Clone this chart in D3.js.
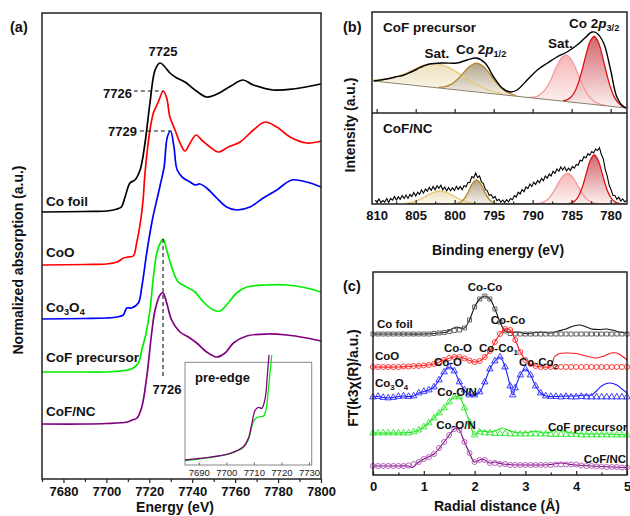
<!DOCTYPE html>
<html><head><meta charset="utf-8">
<script src="https://cdn.jsdelivr.net/npm/d3@7"></script>
<style>
body{margin:0;background:#fff}
text{font-family:"Liberation Sans",Arial,sans-serif;}
</style>
</head><body>
<svg id="chart" width="630" height="516"></svg>
<script>
// ---------------- DATA ----------------
// (a) XANES, energy (eV) vs normalized absorption (offset, a.u.)
const xanesCoFoil=[[7670,2.67],[7690,2.675],[7700,2.68],[7705,2.70],[7707,2.72],[7708.7,2.82],[7711,2.96],[7713.3,2.99],[7715.7,3.09],[7718,3.36],[7720.3,3.76],[7722.7,4.09],[7725,4.16],[7727.3,4.12],[7729.6,4.06],[7732.8,4.01],[7736.6,3.97],[7741.3,3.89],[7746.7,3.82],[7750.6,3.84],[7758,3.93],[7763.6,3.99],[7768.5,3.94],[7777.8,3.89],[7787.1,3.90],[7800,3.95]];
const xanesCoO=[[7670,2.14],[7690,2.145],[7700,2.15],[7705,2.17],[7708,2.21],[7710,2.22],[7712.5,2.23],[7714.1,2.36],[7716,2.59],[7717.1,2.79],[7718,3.06],[7720.3,3.49],[7721.9,3.66],[7724.2,3.77],[7726.5,3.88],[7728.1,3.81],[7729.6,3.62],[7732,3.49],[7734.3,3.36],[7736.6,3.28],[7739,3.36],[7741.8,3.44],[7744.4,3.39],[7748.3,3.32],[7752.2,3.27],[7756.8,3.32],[7762.3,3.37],[7768.5,3.49],[7773.9,3.57],[7779.4,3.52],[7785.6,3.42],[7793.3,3.36],[7800,3.38]];
const xanesCo3O4=[[7670,1.60],[7690,1.605],[7700,1.61],[7705,1.62],[7707.9,1.64],[7709.5,1.71],[7711.7,1.71],[7714.9,1.76],[7716.5,1.92],[7719,2.29],[7721.5,2.60],[7723.5,2.79],[7725.3,2.96],[7726.9,3.12],[7728.4,3.42],[7729.9,3.48],[7731.5,3.32],[7733,3.09],[7735.8,3.01],[7739,2.97],[7741.3,2.94],[7743.6,2.95],[7746.7,2.91],[7751.4,2.81],[7756,2.72],[7760.7,2.69],[7766.9,2.72],[7773.1,2.81],[7779.4,2.89],[7786.4,2.99],[7793.3,2.97],[7800,2.92]];
const xanesCoFPre=[[7670,1.07],[7690,1.07],[7700,1.07],[7710,1.09],[7712.5,1.11],[7714.9,1.16],[7716.5,1.29],[7718.4,1.45],[7720.3,1.69],[7721.9,2.02],[7723.5,2.26],[7725.1,2.36],[7726.4,2.40],[7728.1,2.29],[7730.4,2.12],[7733.5,1.97],[7737.4,1.92],[7741.3,1.87],[7745.2,1.77],[7749.9,1.69],[7753,1.68],[7756.8,1.76],[7760.7,1.86],[7765.4,1.92],[7774.7,1.94],[7784,1.94],[7793.3,1.91],[7800,1.87]];
const xanesCoFNC=[[7670,0.55],[7690,0.55],[7700,0.555],[7709.7,0.57],[7712,0.59],[7714.3,0.61],[7716.5,0.72],[7718.8,1.02],[7721.1,1.46],[7722.7,1.69],[7725,1.84],[7726.4,1.86],[7728.1,1.76],[7730.4,1.59],[7734.3,1.47],[7738.2,1.42],[7742.1,1.36],[7746.7,1.27],[7751.4,1.22],[7755.3,1.26],[7759.2,1.36],[7765.4,1.43],[7774.7,1.45],[7784,1.44],[7793.3,1.41],[7800,1.38]];
const xanesTicks=[7680,7700,7720,7740,7760,7780,7800];
// inset pre-edge
const preCoFNC=[[7685,0.05],[7690,0.065],[7695.3,0.083],[7701.4,0.117],[7706.2,0.183],[7708,0.267],[7709.3,0.417],[7710.5,0.55],[7711.7,0.577],[7712.9,0.567],[7714.1,0.667],[7714.9,0.9],[7715.5,1.1]];
const preCoFPre=[[7685,0.045],[7690,0.06],[7695.3,0.08],[7701.4,0.113],[7706.2,0.178],[7708,0.25],[7709.8,0.433],[7711.1,0.473],[7712.3,0.483],[7713.5,0.49],[7714.5,0.567],[7715.3,0.767],[7715.9,0.933],[7716.5,1.1]];
const preTicks=[7690,7700,7710,7720,7730];

// (b) XPS Co 2p, binding energy (eV) vs intensity
const xpsPreData=[[810.4,0.29],[809.5,0.30],[808.7,0.31],[807.6,0.33],[806.5,0.35],[805.6,0.38],[804.8,0.41],[804.0,0.44],[803.2,0.46],[801.5,0.47],[799.7,0.47],[798.4,0.50],[797.2,0.52],[796.1,0.47],[795.0,0.33],[793.9,0.22],[792.9,0.18],[792.0,0.20],[790.7,0.30],[789.4,0.40],[788.1,0.47],[786.9,0.53],[785.6,0.58],[784.3,0.65],[783.3,0.72],[782.4,0.78],[781.8,0.77],[780.9,0.67],[780.0,0.40],[779.2,0.13],[778.3,0.03],[777.95,0.02]];
const xpsPreBg=[[810.4,0.29],[777.95,0.02]];
const xpsPreSat1=[[810.4,0.301],[810.2,0.301],[809.2,0.305],[808.2,0.318],[807.2,0.339],[806.2,0.370],[805.2,0.406],[804.3,0.439],[803.3,0.460],[802.3,0.462],[801.3,0.443],[800.3,0.406],[799.3,0.357],[798.3,0.304],[797.3,0.257],[796.3,0.219],[795.3,0.190],[794.3,0.169],[793.8,0.161]];
const xpsPre2p12=[[802.1,0.227],[801.1,0.236],[800.6,0.251],[800.1,0.276],[799.6,0.310],[799.1,0.351],[798.6,0.395],[798.1,0.434],[797.6,0.460],[797.1,0.467],[796.6,0.452],[796.1,0.418],[795.6,0.371],[795.1,0.318],[794.6,0.268],[794.1,0.226],[793.6,0.193],[793.1,0.170],[792.1,0.144]];
const xpsPreSat2=[[790.65,0.126],[790.15,0.126],[789.65,0.132],[789.15,0.149],[788.65,0.181],[788.15,0.231],[787.65,0.303],[787.2,0.388],[786.7,0.470],[786.2,0.529],[785.7,0.549],[785.2,0.521],[784.7,0.454],[784.2,0.363],[783.7,0.270],[783.2,0.189],[782.7,0.131],[782.2,0.091],[781.7,0.068],[781.2,0.054],[780.7,0.046]];
const xpsPre2p32=[[786.1,0.094],[785.6,0.102],[785.1,0.127],[784.6,0.182],[784.1,0.279],[783.6,0.417],[783.1,0.569],[782.6,0.691],[782.1,0.735],[781.6,0.683],[781.1,0.552],[780.6,0.392],[780.1,0.246],[779.6,0.141],[779.1,0.078],[778.6,0.044],[778.1,0.028]];
// CoF/NC: measured (noisy) intensity on an even grid from 810.2 eV downwards
const xpsNCStart=810.2, xpsNCStep=-0.248;
const xpsNCData=[0.040,0.016,0.050,0.013,0.035,0.018,0.055,0.015,0.055,0.038,0.075,0.038,0.072,0.047,0.085,0.056,0.090,0.056,0.095,0.075,0.115,0.080,0.117,0.097,0.140,0.108,0.150,0.128,0.167,0.136,0.175,0.142,0.183,0.158,0.188,0.142,0.170,0.132,0.165,0.133,0.163,0.135,0.177,0.146,0.175,0.142,0.185,0.170,0.215,0.216,0.275,0.262,0.310,0.265,0.280,0.220,0.205,0.145,0.132,0.085,0.095,0.058,0.075,0.033,0.047,0.018,0.040,0.015,0.043,0.022,0.055,0.043,0.085,0.070,0.118,0.100,0.145,0.122,0.170,0.153,0.200,0.175,0.218,0.196,0.235,0.213,0.255,0.232,0.280,0.258,0.300,0.280,0.328,0.308,0.350,0.327,0.370,0.340,0.370,0.330,0.358,0.336,0.375,0.358,0.395,0.388,0.438,0.430,0.475,0.460,0.503,0.488,0.525,0.510,0.550,0.535,0.562,0.495,0.450,0.345,0.282,0.190,0.142,0.085,0.085,0.048,0.068,0.030,0.052,0.022,0.035];
const xpsNCBg=[[805.95,0.004],[777.95,0.004]];
const xpsNCSat1=[[806.4,0.006],[805.9,0.011],[804.9,0.032],[803.9,0.070],[802.9,0.111],[801.9,0.13],[800.9,0.111],[799.9,0.070],[798.9,0.032],[797.9,0.011],[797.4,0.006]];
const xpsNC2p12=[[800.2,0.001],[799.7,0.005],[799.2,0.020],[798.7,0.060],[798.2,0.129],[797.7,0.206],[797.2,0.24],[796.7,0.206],[796.2,0.129],[795.7,0.060],[795.2,0.020],[794.7,0.005],[794.2,0.001]];
const xpsNCSat2=[[789.55,0.003],[789.05,0.008],[788.55,0.021],[788.05,0.048],[787.55,0.094],[787.05,0.158],[786.55,0.228],[786.05,0.285],[785.55,0.307],[785.05,0.285],[784.55,0.228],[784.05,0.158],[783.55,0.094],[783.05,0.048],[782.55,0.021],[782.05,0.008],[781.55,0.003]];
const xpsNC2p32=[[785.6,0.002],[785.1,0.008],[784.6,0.029],[784.1,0.080],[783.6,0.176],[783.1,0.311],[782.6,0.438],[782.1,0.49],[781.6,0.438],[781.1,0.311],[780.6,0.176],[780.1,0.080],[779.6,0.029],[779.1,0.008],[778.6,0.002]];
const xpsTicks=[810,805,800,795,790,785,780];

// (c) EXAFS FT, radial distance (Å) vs FT magnitude (offset)
const ftFoilData=[[0,1.41],[0.5,1.41],[1.0,1.41],[1.3,1.42],[1.45,1.43],[1.55,1.46],[1.64,1.48],[1.72,1.47],[1.8,1.47],[1.9,1.55],[2.0,1.68],[2.1,1.76],[2.2,1.79],[2.3,1.76],[2.4,1.66],[2.5,1.53],[2.6,1.44],[2.7,1.425],[2.85,1.43],[3.0,1.415],[3.15,1.42],[3.3,1.43],[3.5,1.42],[3.65,1.44],[3.8,1.46],[3.95,1.49],[4.08,1.50],[4.2,1.48],[4.3,1.46],[4.45,1.455],[4.6,1.46],[4.75,1.445],[4.85,1.43],[5.0,1.42]];
const ftFoilFit=[[0,1.41],[0.1,1.41],[0.2,1.41],[0.3,1.41],[0.4,1.41],[0.5,1.41],[0.6,1.41],[0.7,1.41],[0.8,1.41],[0.9,1.41],[1.0,1.41],[1.1,1.41],[1.2,1.415],[1.3,1.42],[1.4,1.425],[1.5,1.435],[1.6,1.445],[1.7,1.45],[1.8,1.47],[1.9,1.55],[2.0,1.68],[2.1,1.76],[2.2,1.79],[2.3,1.76],[2.4,1.66],[2.5,1.53],[2.6,1.44],[2.7,1.415],[2.8,1.41],[2.9,1.41],[3.0,1.41],[3.1,1.41],[3.2,1.41],[3.3,1.41],[3.4,1.41],[3.5,1.41],[3.6,1.41],[3.7,1.41],[3.8,1.41],[3.9,1.41],[4.0,1.41],[4.1,1.41],[4.2,1.41],[4.3,1.41],[4.4,1.41],[4.5,1.41],[4.6,1.41],[4.7,1.41],[4.8,1.41],[4.9,1.41],[5.0,1.41]];
const ftCoOData=[[0,1.08],[0.5,1.08],[0.8,1.09],[1.0,1.095],[1.2,1.11],[1.4,1.15],[1.6,1.18],[1.7,1.18],[1.85,1.155],[2.0,1.13],[2.1,1.14],[2.2,1.18],[2.3,1.24],[2.4,1.33],[2.5,1.41],[2.6,1.46],[2.7,1.45],[2.8,1.35],[2.9,1.23],[3.0,1.15],[3.1,1.11],[3.2,1.09],[3.35,1.08],[3.5,1.085],[3.57,1.18],[3.65,1.21],[3.8,1.22],[4.0,1.215],[4.2,1.19],[4.4,1.17],[4.55,1.19],[4.7,1.22],[4.8,1.22],[4.9,1.19],[5.0,1.15]];
const ftCoOFit=[[0,1.08],[0.1,1.08],[0.2,1.08],[0.3,1.08],[0.4,1.08],[0.5,1.08],[0.6,1.085],[0.7,1.085],[0.8,1.09],[0.9,1.09],[1.0,1.095],[1.1,1.10],[1.2,1.11],[1.3,1.13],[1.4,1.15],[1.5,1.17],[1.6,1.18],[1.7,1.18],[1.8,1.165],[1.9,1.145],[2.0,1.13],[2.1,1.14],[2.2,1.18],[2.3,1.24],[2.4,1.33],[2.5,1.41],[2.6,1.46],[2.7,1.45],[2.8,1.35],[2.9,1.23],[3.0,1.15],[3.1,1.11],[3.2,1.09],[3.3,1.08],[3.4,1.08],[3.5,1.08],[3.6,1.08],[3.7,1.08],[3.8,1.08],[3.9,1.08],[4.0,1.08],[4.1,1.08],[4.2,1.08],[4.3,1.08],[4.4,1.08],[4.5,1.08],[4.6,1.08],[4.7,1.08],[4.8,1.08],[4.9,1.08],[5.0,1.08]];
const ftCo3O4Data=[[0,0.78],[0.1,0.785],[0.2,0.775],[0.3,0.77],[0.4,0.775],[0.5,0.785],[0.6,0.79],[0.7,0.785],[0.8,0.79],[0.9,0.82],[1.0,0.835],[1.1,0.85],[1.2,0.88],[1.3,0.95],[1.4,1.03],[1.5,1.08],[1.6,1.04],[1.7,0.93],[1.8,0.85],[1.9,0.80],[2.0,0.80],[2.1,0.83],[2.2,0.93],[2.3,1.06],[2.4,1.14],[2.5,1.18],[2.6,1.08],[2.7,0.89],[2.75,0.80],[2.8,0.87],[2.9,1.00],[3.0,1.06],[3.1,1.00],[3.2,0.89],[3.3,0.82],[3.4,0.79],[3.6,0.785],[3.8,0.79],[4.0,0.79],[4.15,0.80],[4.3,0.80],[4.4,0.84],[4.5,0.89],[4.65,0.92],[4.8,0.90],[4.9,0.86],[5.0,0.82]];
const ftCo3O4Fit=[[0,0.78],[0.1,0.785],[0.2,0.775],[0.3,0.77],[0.4,0.775],[0.5,0.785],[0.6,0.79],[0.7,0.785],[0.8,0.79],[0.9,0.82],[1.0,0.835],[1.1,0.85],[1.2,0.88],[1.3,0.95],[1.4,1.03],[1.5,1.08],[1.6,1.04],[1.7,0.93],[1.8,0.85],[1.9,0.80],[2.0,0.80],[2.1,0.83],[2.2,0.93],[2.3,1.06],[2.4,1.14],[2.5,1.18],[2.6,1.08],[2.7,0.89],[2.75,0.80],[2.8,0.87],[2.9,1.00],[3.0,1.06],[3.1,1.00],[3.2,0.89],[3.3,0.82],[3.4,0.79],[3.5,0.785],[3.6,0.785],[3.7,0.78],[3.8,0.785],[3.9,0.78],[4.0,0.78],[4.1,0.785],[4.2,0.78],[4.3,0.78],[4.4,0.78],[4.5,0.78],[4.6,0.78],[4.7,0.78],[4.8,0.78],[4.9,0.78],[5.0,0.78]];
const ftCoFPreData=[[0,0.42],[0.5,0.42],[0.8,0.43],[0.9,0.45],[1.0,0.48],[1.1,0.52],[1.2,0.57],[1.3,0.62],[1.4,0.67],[1.5,0.73],[1.6,0.78],[1.7,0.78],[1.8,0.67],[1.9,0.53],[2.0,0.40],[2.1,0.44],[2.3,0.43],[2.45,0.45],[2.55,0.47],[2.7,0.44],[2.9,0.42],[3.1,0.43],[3.2,0.44],[3.35,0.42],[3.5,0.43],[3.6,0.45],[3.75,0.44],[3.9,0.42],[4.2,0.41],[4.6,0.41],[5.0,0.40]];
const ftCoFPreFit=[[0,0.42],[0.1,0.42],[0.2,0.42],[0.3,0.42],[0.4,0.42],[0.5,0.42],[0.6,0.42],[0.7,0.42],[0.8,0.43],[0.9,0.45],[1.0,0.48],[1.1,0.52],[1.2,0.57],[1.3,0.62],[1.4,0.67],[1.5,0.73],[1.6,0.78],[1.7,0.78],[1.8,0.67],[1.9,0.53],[2.0,0.40],[2.1,0.43],[2.2,0.42],[2.3,0.42],[2.4,0.415],[2.5,0.415],[2.6,0.415],[2.7,0.41],[2.8,0.41],[2.9,0.41],[3.0,0.41],[3.1,0.41],[3.2,0.41],[3.3,0.41],[3.4,0.41],[3.5,0.405],[3.6,0.405],[3.7,0.405],[3.8,0.405],[3.9,0.405],[4.0,0.405],[4.1,0.40],[4.2,0.40],[4.3,0.40],[4.4,0.40],[4.5,0.40],[4.6,0.40],[4.7,0.40],[4.8,0.40],[4.9,0.40],[5.0,0.40]];
const ftCoFNCData=[[0,0.09],[0.5,0.09],[0.7,0.09],[0.78,0.075],[0.85,0.11],[1.0,0.16],[1.2,0.21],[1.4,0.33],[1.6,0.46],[1.65,0.47],[1.7,0.45],[1.8,0.33],[1.9,0.22],[2.0,0.13],[2.15,0.16],[2.3,0.12],[2.4,0.13],[2.55,0.11],[3.0,0.10],[3.5,0.105],[3.7,0.12],[3.9,0.105],[4.5,0.085],[5.0,0.075]];
const ftCoFNCFit=[[0,0.09],[0.1,0.09],[0.2,0.09],[0.3,0.09],[0.4,0.09],[0.5,0.09],[0.6,0.09],[0.7,0.095],[0.8,0.11],[0.9,0.13],[1.0,0.16],[1.1,0.18],[1.2,0.21],[1.3,0.27],[1.4,0.33],[1.5,0.40],[1.6,0.46],[1.7,0.45],[1.8,0.33],[1.9,0.22],[2.0,0.13],[2.1,0.15],[2.2,0.15],[2.3,0.12],[2.4,0.12],[2.5,0.11],[2.6,0.11],[2.7,0.10],[2.8,0.10],[2.9,0.10],[3.0,0.10],[3.1,0.10],[3.2,0.10],[3.3,0.10],[3.4,0.10],[3.5,0.10],[3.6,0.105],[3.7,0.105],[3.8,0.105],[3.9,0.105],[4.0,0.105],[4.1,0.095],[4.2,0.09],[4.3,0.09],[4.4,0.085],[4.5,0.085],[4.6,0.08],[4.7,0.08],[4.8,0.08],[4.9,0.075],[5.0,0.075]];
const ftTicks=[0,1,2,3,4,5];

// ---------------- DRAW ----------------
const svg=d3.select("#chart");
const defs=svg.append("defs");
const FONT='"Liberation Sans",Arial,sans-serif';
function T(g,x,y,s,o={}){
  const t=g.append("text").attr("x",x).attr("y",y).attr("font-size",o.size||13).attr("font-weight",o.w||"bold").attr("fill",o.fill||"#111").attr("text-anchor",o.anchor||"start");
  if(o.rot!==undefined) t.attr("transform",`rotate(${o.rot},${x},${y})`);
  if(Array.isArray(s)){
    s.forEach(p=>{
      if(typeof p==="string"){t.append("tspan").text(p);}
      else{const ts=t.append("tspan").text(p.t);
        if(p.sub){ts.attr("font-size",(o.size||13)*0.68).attr("dy",p.dy||3);}
        if(p.up){ts.attr("dy",p.up);}
        if(p.it){ts.attr("font-style","italic");}
      }
    });
  } else t.text(s);
  return t;
}
function styleAxis(ax,size,bold){
  ax.select(".domain").remove();
  ax.selectAll("text").attr("font-size",size).attr("font-weight",bold?"bold":"normal").attr("fill","#111").attr("font-family",FONT);
  ax.selectAll("line").attr("stroke","#222").attr("stroke-width",1.2);
}

// ===== Panel (a) =====
const xa=d3.scaleLinear().domain([7670,7800]).range([42,321]);
const ya=d3.scaleLinear().domain([0,4.66]).range([479,13]);
const la=d3.line().x(d=>xa(d[0])).y(d=>ya(d[1])).curve(d3.curveCatmullRom.alpha(0.5));
const gA=svg.append("g");
const aSeries=[[xanesCoFoil,"#000"],[xanesCoO,"#ff0000"],[xanesCo3O4,"#0000ff"],[xanesCoFPre,"#00ee00"],[xanesCoFNC,"#800080"]];
aSeries.forEach(([d,c])=>gA.append("path").attr("d",la(d)).attr("fill","none").attr("stroke",c).attr("stroke-width",1.7));
gA.append("rect").attr("x",42).attr("y",13).attr("width",279).attr("height",466).attr("fill","none").attr("stroke","#222").attr("stroke-width",1.5);
const axA=gA.append("g").attr("transform","translate(0,479)").call(d3.axisBottom(xa).tickValues(xanesTicks).tickSize(4).tickPadding(4).tickFormat(d3.format("d")));
styleAxis(axA,13,true);
const minorA=gA.append("g").attr("transform","translate(0,479)").call(d3.axisBottom(xa).tickValues([7670,7690,7710,7730,7750,7770,7790]).tickSize(3).tickFormat(""));
styleAxis(minorA,13,true);
T(gA,46,206,"Co foil",{size:13.5});
T(gA,46,257,"CoO",{size:13.5});
T(gA,46,312,["Co",{t:"3",sub:true,dy:3},{t:"O",up:-3},{t:"4",sub:true,dy:3}],{size:13.5});
T(gA,46,362,"CoF precursor",{size:13.5});
T(gA,46,416,"CoF/NC",{size:13.5});
T(gA,163,56,"7725",{anchor:"middle"});
T(gA,132,97.5,"7726",{anchor:"end"});
T(gA,137,136,"7729",{anchor:"end"});
T(gA,167,394,"7726",{anchor:"middle"});
const dash="4,3";
gA.append("line").attr("x1",xa(7712.8)).attr("x2",xa(7726.5)).attr("y1",ya(3.88)).attr("y2",ya(3.88)).attr("stroke","#111").attr("stroke-dasharray",dash).attr("stroke-width",1.1);
gA.append("line").attr("x1",xa(7715.6)).attr("x2",xa(7729.9)).attr("y1",ya(3.48)).attr("y2",ya(3.48)).attr("stroke","#111").attr("stroke-dasharray",dash).attr("stroke-width",1.1);
gA.append("line").attr("x1",xa(7726.4)).attr("x2",xa(7726.4)).attr("y1",ya(2.40)).attr("y2",ya(1.02)).attr("stroke","#111").attr("stroke-dasharray",dash).attr("stroke-width",1.1);
T(gA,175,512,"Energy (eV)",{size:14,anchor:"middle"});
T(gA,23,260,"Normalized absorption (a.u.)",{size:14,anchor:"middle",rot:-90});
T(gA,10,32,"(a)",{size:14.5});

// inset
const xi=d3.scaleLinear().domain([7685,7731]).range([185,311.7]);
const yi=d3.scaleLinear().domain([0,1.027]).range([465,362.3]);
const li=d3.line().x(d=>xi(d[0])).y(d=>yi(d[1])).curve(d3.curveCatmullRom.alpha(0.5));
const gI=svg.append("g");
gI.append("rect").attr("x",185).attr("y",362.3).attr("width",126.7).attr("height",102.7).attr("fill","#fff").attr("stroke","#888").attr("stroke-width",1);
gI.append("path").attr("d",li(preCoFPre)).attr("fill","none").attr("stroke","#00ee00").attr("stroke-width",1.3);
gI.append("path").attr("d",li(preCoFNC)).attr("fill","none").attr("stroke","#800080").attr("stroke-width",1.3);
const axI=gI.append("g").attr("transform","translate(0,465)").call(d3.axisBottom(xi).tickValues(preTicks).tickSize(-2.5).tickPadding(4).tickFormat(d3.format("d")));
styleAxis(axI,9.5,false);
axI.selectAll("line").attr("stroke","#666").attr("stroke-width",1);
axI.selectAll("text").attr("fill","#222");
T(gI,195,382,"pre-edge",{size:13});

// ===== Panel (b) =====
const xb=d3.scaleLinear().domain([810.6,777.9]).range([372,627]);
const ybT=d3.scaleLinear().domain([-0.03,0.98]).range([113,12]);
const ybB=d3.scaleLinear().domain([0,0.91]).range([204,113]);
const gB=svg.append("g");
function grad(id,c1,c2){const g=defs.append("linearGradient").attr("id",id).attr("x1",0).attr("y1",0).attr("x2",0).attr("y2",1);
 g.append("stop").attr("offset","0%").attr("stop-color",c1); g.append("stop").attr("offset","100%").attr("stop-color",c2);}
grad("gSat1","#eadbb0","#fbf7ec");
grad("g2p12","#a8957a","#f2ede4");
grad("gSat2","#f3a9a9","#fdf1f1");
grad("g2p32","#cc4a52","#fbeeee");
function peaks(ys,list){
  const l=d3.line().x(d=>xb(d[0])).y(d=>ys(d[1])).curve(d3.curveCatmullRom.alpha(0.5));
  list.forEach(([d,gid])=>{
    gB.append("path").attr("d",l(d)+"Z").attr("fill",`url(#${gid})`).attr("fill-opacity",0.85).attr("stroke","none");
  });
  list.forEach(([d,gid,col])=>{
    gB.append("path").attr("d",l(d)).attr("fill","none").attr("stroke",col).attr("stroke-width",1.3);
  });
}
const lbT=d3.line().x(d=>xb(d[0])).y(d=>ybT(d[1])).curve(d3.curveCatmullRom.alpha(0.5));
const lbB=d3.line().x(d=>xb(d[0])).y(d=>ybB(d[1]));
peaks(ybT,[[xpsPreSat1,"gSat1","#e8c878"],[xpsPre2p12,"g2p12","#b08a2a"],[xpsPreSat2,"gSat2","#f49a9a"],[xpsPre2p32,"g2p32","#dd1010"]]);
gB.append("path").attr("d",lbT(xpsPreBg)).attr("fill","none").attr("stroke","#8a7d62").attr("stroke-width",1);
gB.append("path").attr("d",lbT(xpsPreData)).attr("fill","none").attr("stroke","#000").attr("stroke-width",1.4);
peaks(ybB,[[xpsNCSat1,"gSat1","#e8c878"],[xpsNC2p12,"g2p12","#b08a2a"],[xpsNCSat2,"gSat2","#f49a9a"],[xpsNC2p32,"g2p32","#dd1010"]]);
gB.append("path").attr("d",lbB(xpsNCBg)).attr("fill","none").attr("stroke","#8a7d62").attr("stroke-width",1);
const ncPts=xpsNCData.map((v,i)=>[xpsNCStart+i*xpsNCStep,v]);
gB.append("path").attr("d",lbB(ncPts)).attr("fill","none").attr("stroke","#000").attr("stroke-width",1.1);
gB.append("rect").attr("x",372).attr("y",12).attr("width",255).attr("height",192).attr("fill","none").attr("stroke","#222").attr("stroke-width",1.5);
gB.append("line").attr("x1",372).attr("x2",627).attr("y1",113).attr("y2",113).attr("stroke","#222").attr("stroke-width",1.5);
const axB=gB.append("g").attr("transform","translate(0,204)").call(d3.axisBottom(xb).tickValues(xpsTicks).tickSize(-4).tickPadding(7).tickFormat(d3.format("d")));
styleAxis(axB,13,true);
const mB=gB.append("g").attr("transform","translate(0,204)").call(d3.axisBottom(xb).tickValues([807.5,802.5,797.5,792.5,787.5,782.5]).tickSize(-2.5).tickFormat(""));
styleAxis(mB,13,true);
const axB2=gB.append("g").attr("transform","translate(0,113)").call(d3.axisBottom(xb).tickValues(xpsTicks).tickSize(-4).tickFormat(""));
styleAxis(axB2,13,true);
T(gB,383,31.5,"CoF precursor",{size:13.5});
T(gB,437,58,"Sat.",{size:13.5,anchor:"middle"});
T(gB,456,54,["Co 2",{t:"p",it:true},{t:"1/2",sub:true,dy:3}],{size:13.5});
T(gB,548,48,"Sat.",{size:13.5});
T(gB,569,28,["Co 2",{t:"p",it:true},{t:"3/2",sub:true,dy:3}],{size:13.5});
T(gB,383,133,"CoF/NC",{size:13.5});
T(gB,498,255,"Binding energy (eV)",{size:14,anchor:"middle"});
T(gB,355,125,"Intensity (a.u.)",{size:14,anchor:"middle",rot:-90});
T(gB,343,32,"(b)",{size:14.5});

// ===== Panel (c) =====
const xc=d3.scaleLinear().domain([0,5]).range([373,627]);
const yc=d3.scaleLinear().domain([0,2.03]).range([475,272]);
const lc=d3.line().x(d=>xc(d[0])).y(d=>yc(d[1])).curve(d3.curveCatmullRom.alpha(0.5));
const gC=svg.append("g");
const cSeries=[
 [ftFoilData,ftFoilFit,"#111","#555",d3.symbolSquare,16],
 [ftCoOData,ftCoOFit,"#ff1a1a","#ff2a2a",d3.symbolCircle,20],
 [ftCo3O4Data,ftCo3O4Fit,"#1a1aff","#2a2aff",d3.symbolTriangle,18],
 [ftCoFPreData,ftCoFPreFit,"#1ee01e","#2ee82e",d3.symbolTriangle,18],
 [ftCoFNCData,ftCoFNCFit,"#7a0a7a","#b050b8",d3.symbolCircle,20]];
cSeries.forEach(([dat,fit,lcCol,mCol,sym,sz])=>{
  gC.append("path").attr("d",lc(dat)).attr("fill","none").attr("stroke",lcCol).attr("stroke-width",1.1);
  gC.append("g").selectAll("path").data(fit).join("path")
    .attr("transform",d=>`translate(${xc(d[0])},${yc(d[1])})`)
    .attr("d",d3.symbol().type(sym).size(sz)).attr("fill","none").attr("stroke",mCol).attr("stroke-width",0.9);
});
gC.append("rect").attr("x",373).attr("y",272).attr("width",254).attr("height",203).attr("fill","none").attr("stroke","#222").attr("stroke-width",1.5);
const axC=gC.append("g").attr("transform","translate(0,475)").call(d3.axisBottom(xc).tickValues(ftTicks).tickSize(-4).tickPadding(7).tickFormat(d3.format("d")));
styleAxis(axC,13,true);
const mC=gC.append("g").attr("transform","translate(0,475)").call(d3.axisBottom(xc).tickValues([0.5,1.5,2.5,3.5,4.5]).tickSize(-2.5).tickFormat(""));
styleAxis(mC,13,true);
const cs=11.5;
T(gC,485,291,"Co-Co",{size:cs,anchor:"middle"});
T(gC,377,327.5,"Co foil",{size:cs});
T(gC,508,323.5,"Co-Co",{size:cs,anchor:"middle"});
T(gC,458,352,"Co-O",{size:cs,anchor:"middle"});
T(gC,375,360,"CoO",{size:cs});
T(gC,479,352,["Co-Co",{t:"1",sub:true,dy:3}],{size:cs});
T(gC,448,366,"Co-O",{size:cs,anchor:"middle"});
T(gC,519,366,["Co-Co",{t:"2",sub:true,dy:3}],{size:cs});
T(gC,375,387,["Co",{t:"3",sub:true,dy:3},{t:"O",up:-3},{t:"4",sub:true,dy:3}],{size:cs});
T(gC,457,396,"Co-O/N",{size:cs,anchor:"middle"});
T(gC,456,429,"Co-O/N",{size:cs,anchor:"middle"});
T(gC,548,431,"CoF precursor",{size:cs});
T(gC,626,462.5,"CoF/NC",{size:cs,anchor:"end"});
T(gC,497,511,"Radial distance (Å)",{size:14,anchor:"middle"});
T(gC,358,378,"FT(k3χ(R)/a.u.)",{size:14,anchor:"middle",rot:-90});
T(gC,343,291,"(c)",{size:14.5});
</script>
</body></html>
